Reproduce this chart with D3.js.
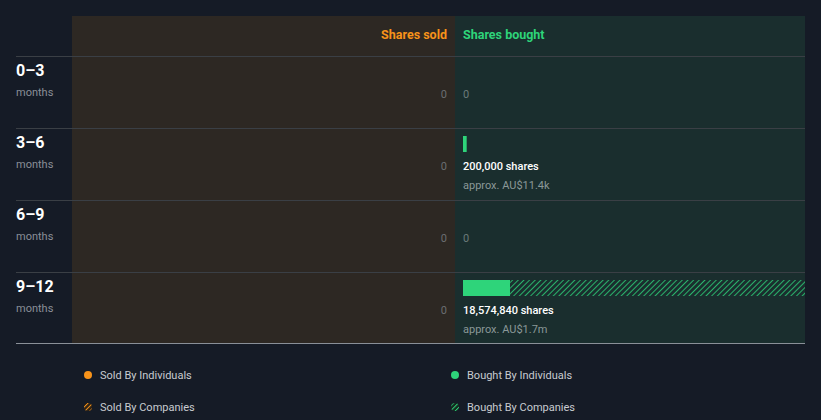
<!DOCTYPE html>
<html><head><meta charset="utf-8">
<script src="https://cdn.jsdelivr.net/npm/d3@7"></script>
<style>
html,body{margin:0;padding:0;background:#151b26;}
text{font-family:Roboto,"Noto Sans",sans-serif;}
</style></head><body>
<svg id="c" width="821" height="420"></svg>
<script>
const periods = ["0–3","3–6","6–9","9–12"];
const soldIndividuals = [0,0,0,0];
const soldCompanies = [0,0,0,0];
const boughtIndividuals = [0,200000,0,2560000];
const boughtCompanies = [0,0,0,16014840];
const boughtTotals = [0,200000,0,18574840];
const boughtValues = ["","approx. AU$11.4k","","approx. AU$1.7m"];
const legendItems = ["Sold By Individuals","Bought By Individuals","Sold By Companies","Bought By Companies"];

(function(){
const svg=d3.select("#c");
const defs=svg.append("defs");
function hatch(id,color,bg,w,sw){
  const p=defs.append("pattern").attr("id",id).attr("patternUnits","userSpaceOnUse")
    .attr("width",w).attr("height",w).attr("patternTransform","rotate(45)");
  p.append("rect").attr("width",w).attr("height",w).attr("fill",bg);
  p.append("line").attr("x1",0).attr("y1",0).attr("x2",0).attr("y2",w).attr("stroke",color).attr("stroke-width",sw);
}
hatch("hb","#2ed47a","#1a2e2e",4,1.6);
hatch("hs","#f7931a","#2a2015",3.4,2);
hatch("hbl","#2ed47a","#14291f",3.4,2);

const pL=72, pM=455, pR=805, pT=16, pB=343;
const y=d3.scaleBand().domain(periods).range([56,344]);
const maxV=d3.max(boughtTotals);
const xb=d3.scaleLinear().domain([0,maxV]).range([463,805]);

svg.append("rect").attr("x",pL).attr("y",pT).attr("width",pM-pL).attr("height",pB-pT).attr("fill","#2d2823");
svg.append("rect").attr("x",pM).attr("y",pT).attr("width",pR-pM).attr("height",pB-pT).attr("fill","#1a2e2e");

svg.append("text").attr("x",447).attr("y",39).attr("text-anchor","end").attr("fill","#f7931a")
  .attr("font-size",12.5).attr("font-weight",700).text("Shares sold");
svg.append("text").attr("x",463).attr("y",39).attr("fill","#2ed47a")
  .attr("font-size",12.5).attr("font-weight",700).text("Shares bought");

periods.forEach((p,i)=>{
  const y0=y(p);
  svg.append("line").attr("x1",16).attr("x2",pR).attr("y1",y0+0.5).attr("y2",y0+0.5)
    .attr("stroke","#3a3f45").attr("stroke-width",1);
  svg.append("text").attr("x",16).attr("y",y0+20).attr("fill","#ffffff").attr("font-size",16).attr("font-weight",700).text(p);
  svg.append("text").attr("x",16).attr("y",y0+40).attr("fill","#8a8f98").attr("font-size",11).text("months");
  const st=soldIndividuals[i]+soldCompanies[i];
  svg.append("text").attr("x",447).attr("y",y0+42).attr("text-anchor","end").attr("fill","#6b6e72").attr("font-size",11).text(d3.format(",")(st));
  const bt=boughtTotals[i];
  if(bt===0){
    svg.append("text").attr("x",463).attr("y",y0+42).attr("fill","#6b7a7a").attr("font-size",11).text("0");
  } else {
    const bi=boughtIndividuals[i], bc=boughtCompanies[i];
    svg.append("rect").attr("x",xb(0)).attr("y",y0+8).attr("width",Math.max(3,xb(bi)-xb(0))).attr("height",16).attr("fill","#2ed47a");
    if(bc>0) svg.append("rect").attr("x",xb(bi)).attr("y",y0+8).attr("width",xb(bi+bc)-xb(bi)).attr("height",16).attr("fill","url(#hb)");
    svg.append("text").attr("x",463).attr("y",y0+42).attr("fill","#ffffff").attr("font-size",11).attr("font-weight",500).text(d3.format(",")(bt)+" shares");
    svg.append("text").attr("x",463).attr("y",y0+61).attr("fill","#8a9898").attr("font-size",11).text(boughtValues[i]);
  }
});
svg.append("line").attr("x1",16).attr("x2",pR).attr("y1",343.5).attr("y2",343.5).attr("stroke","#8a9098").attr("stroke-width",1);

const lx=[88,455], ly=[375,407];
legendItems.forEach((t,i)=>{
  const cx=lx[i%2], cy=ly[Math.floor(i/2)];
  const sold=t.startsWith("Sold");
  const col=sold?"#f7931a":"#2ed47a";
  if(i<2) svg.append("circle").attr("cx",cx).attr("cy",cy).attr("r",4).attr("fill",col);
  else svg.append("circle").attr("cx",cx).attr("cy",cy).attr("r",4).attr("fill",sold?"url(#hs)":"url(#hbl)");
  svg.append("text").attr("x",cx+12).attr("y",cy+4).attr("fill","#c8cbd0").attr("font-size",11).text(t);
});
})();
</script></body></html>
